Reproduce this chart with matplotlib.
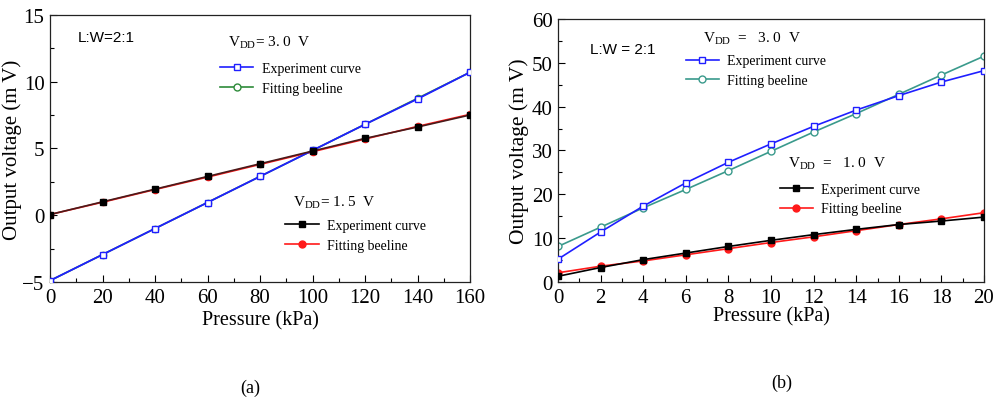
import matplotlib
matplotlib.use("Agg")
import matplotlib.pyplot as plt
from matplotlib.ticker import MultipleLocator
from matplotlib.lines import Line2D

# ---------------- data ----------------
p_a = [0, 20, 40, 60, 80, 100, 120, 140, 160]
a_exp_30 = [-4.9, -2.95, -1.0, 0.95, 2.9, 4.85, 6.8, 8.7, 10.7]
a_fit_30 = [-4.9, -2.95, -1.0, 0.95, 2.9, 4.85, 6.8, 8.75, 10.7]
a_exp_15 = [0.05, 1.0, 1.95, 2.9, 3.85, 4.8, 5.75, 6.6, 7.5]
a_fit_15 = [0.05, 0.97, 1.92, 2.85, 3.8, 4.75, 5.7, 6.65, 7.55]

p_b = [0, 2, 4, 6, 8, 10, 12, 14, 16, 18, 20]
b_exp_30 = [5.2, 11.4, 17.3, 22.6, 27.3, 31.5, 35.5, 39.2, 42.5, 45.6, 48.2]
b_fit_30 = [8.1, 12.5, 16.9, 21.1, 25.4, 29.8, 34.2, 38.4, 42.8, 47.2, 51.5]
b_exp_10 = [1.3, 3.3, 5.1, 6.6, 8.1, 9.5, 10.8, 12.0, 13.1, 13.9, 14.8]
b_fit_10 = [2.1, 3.6, 4.8, 6.2, 7.6, 9.0, 10.3, 11.7, 13.1, 14.4, 15.8]

a_xticks = [0, 20, 40, 60, 80, 100, 120, 140, 160]
a_yticks = [-5, 0, 5, 10, 15]
b_xticks = [0, 2, 4, 6, 8, 10, 12, 14, 16, 18, 20]
b_yticks = [0, 10, 20, 30, 40, 50, 60]

lbl_exp = "Experiment curve"
lbl_fit = "Fitting beeline"

SERIF = ["Liberation Serif", "DejaVu Serif"]
SANS = ["Liberation Sans", "DejaVu Sans"]

BLUE = "#1f1fff"
GREEN = "#2e8b3a"
TEAL = "#3a9a8c"
BLACK = "#000000"
RED = "#ff1a1a"
DARK = "#4a1a1a"

LEG_KW = dict(loc="upper left", frameon=False,
              prop={"family": SERIF, "size": 10}, handlelength=2.4,
              handletextpad=0.6, labelspacing=0.5, borderpad=0,
              borderaxespad=0)

fig = plt.figure(figsize=(10, 4.06), dpi=100)
axa = fig.add_axes([0.05, 0.303, 0.42, 0.658])
axb = fig.add_axes([0.558, 0.303, 0.426, 0.648])


def style(ax, xmaj, xmin, ymaj, ymin):
    ax.xaxis.set_major_locator(MultipleLocator(xmaj))
    ax.xaxis.set_minor_locator(MultipleLocator(xmin))
    ax.yaxis.set_major_locator(MultipleLocator(ymaj))
    ax.yaxis.set_minor_locator(MultipleLocator(ymin))
    ax.tick_params(which="both", direction="in", top=False, right=False,
                   labelsize=15, width=0.8)
    ax.tick_params(which="major", length=5, pad=4)
    ax.tick_params(which="minor", length=3)
    for s in ax.spines.values():
        s.set_linewidth(0.9)
        s.set_color("#222222")


# ---------------- panel (a) ----------------
axa.plot(p_a, a_fit_30, color=GREEN, lw=1.2, marker="o", ms=4.5,
         mfc="white", mec=GREEN, mew=1.0, zorder=2)
axa.plot(p_a, a_exp_30, color=BLUE, lw=1.3, marker="s", ms=4.5,
         mfc="white", mec=BLUE, mew=1.0, zorder=3)
axa.plot(p_a, a_fit_15, color=RED, lw=1.2, marker="o", ms=4.5,
         mfc=RED, mec=RED, zorder=2)
axa.plot(p_a, a_exp_15, color=DARK, lw=1.2, marker="s", ms=4.5,
         mfc=BLACK, mec=BLACK, zorder=3)
axa.set_xlim(0, 160)
axa.set_ylim(-5, 15)
style(axa, 20, 10, 5, 2.5)
axa.set_xticks(a_xticks)
axa.set_yticks(a_yticks)
axa.set_yticklabels(["\u22125", "0", "5", "10", "15"], family=SERIF)
axa.set_xticklabels([str(v) for v in a_xticks], family=SERIF)
axa.set_xlabel("Pressure (kPa)", family=SERIF, fontsize=14.5, labelpad=3)
axa.set_ylabel("Output voltage (m V)", family=SERIF, fontsize=15, labelpad=0)
axa.text(0.065, 0.918, "L:W=2:1", transform=axa.transAxes, family=SANS,
         fontsize=11, va="center", ha="left")
axa.text(0.424, 0.90, r"V$_{\mathregular{DD}}$= 3. 0  V", transform=axa.transAxes,
         family=SERIF, fontsize=11, va="center", ha="left")
axa.text(0.579, 0.30, r"V$_{\mathregular{DD}}$= 1. 5  V", transform=axa.transAxes,
         family=SERIF, fontsize=11, va="center", ha="left")

h1 = [Line2D([], [], color=BLUE, lw=1.2, marker="s", ms=5, mfc="white", mec=BLUE),
      Line2D([], [], color=GREEN, lw=1.2, marker="o", ms=5, mfc="white", mec=GREEN)]
leg1 = axa.legend(h1, [lbl_exp, lbl_fit], bbox_to_anchor=(0.405, 0.825), **LEG_KW)
axa.add_artist(leg1)
h2 = [Line2D([], [], color=BLACK, lw=1.2, marker="s", ms=5, mfc=BLACK, mec=BLACK),
      Line2D([], [], color=RED, lw=1.2, marker="o", ms=5, mfc=RED, mec=RED)]
axa.legend(h2, [lbl_exp, lbl_fit], bbox_to_anchor=(0.56, 0.235), **LEG_KW)

# ---------------- panel (b) ----------------
axb.plot(p_b, b_fit_30, color=TEAL, lw=1.2, marker="o", ms=5,
         mfc="white", mec=TEAL, mew=1.0, zorder=2)
axb.plot(p_b, b_exp_30, color=BLUE, lw=1.2, marker="s", ms=5,
         mfc="white", mec=BLUE, mew=1.0, zorder=3)
axb.plot(p_b, b_fit_10, color=RED, lw=1.2, marker="o", ms=5,
         mfc=RED, mec=RED, zorder=2)
axb.plot(p_b, b_exp_10, color=BLACK, lw=1.2, marker="s", ms=4.5,
         mfc=BLACK, mec=BLACK, zorder=3)
axb.set_xlim(0, 20)
axb.set_ylim(0, 60)
style(axb, 2, 1, 10, 5)
axb.set_xticks(b_xticks)
axb.set_yticks(b_yticks)
axb.set_xticklabels([str(v) for v in b_xticks], family=SERIF)
axb.set_yticklabels([str(v) for v in b_yticks], family=SERIF)
axb.set_xlabel("Pressure (kPa)", family=SERIF, fontsize=14.5, labelpad=0)
axb.set_ylabel("Output voltage (m V)", family=SERIF, fontsize=15.5, labelpad=2)
axb.text(0.075, 0.886, "L:W = 2:1", transform=axb.transAxes, family=SANS,
         fontsize=11, va="center", ha="left")
axb.text(0.34, 0.928, r"V$_{\mathregular{DD}}$  =   3. 0  V", transform=axb.transAxes,
         family=SERIF, fontsize=11, va="center", ha="left")
axb.text(0.54, 0.453, r"V$_{\mathregular{DD}}$  =   1. 0  V", transform=axb.transAxes,
         family=SERIF, fontsize=11, va="center", ha="left")
h3 = [Line2D([], [], color=BLUE, lw=1.2, marker="s", ms=5, mfc="white", mec=BLUE),
      Line2D([], [], color=TEAL, lw=1.2, marker="o", ms=5, mfc="white", mec=TEAL)]
leg3 = axb.legend(h3, [lbl_exp, lbl_fit], bbox_to_anchor=(0.30, 0.865), **LEG_KW)
axb.add_artist(leg3)
h4 = [Line2D([], [], color=BLACK, lw=1.2, marker="s", ms=5, mfc=BLACK, mec=BLACK),
      Line2D([], [], color=RED, lw=1.2, marker="o", ms=5, mfc=RED, mec=RED)]
axb.legend(h4, [lbl_exp, lbl_fit], bbox_to_anchor=(0.52, 0.378), **LEG_KW)

fig.text(0.25, 1 - 388 / 406, "(a)", family=SERIF, fontsize=13,
         ha="center", va="center")
fig.text(0.782, 1 - 383 / 406, "(b)", family=SERIF, fontsize=13,
         ha="center", va="center")

fig.savefig("out.png", dpi=100)
